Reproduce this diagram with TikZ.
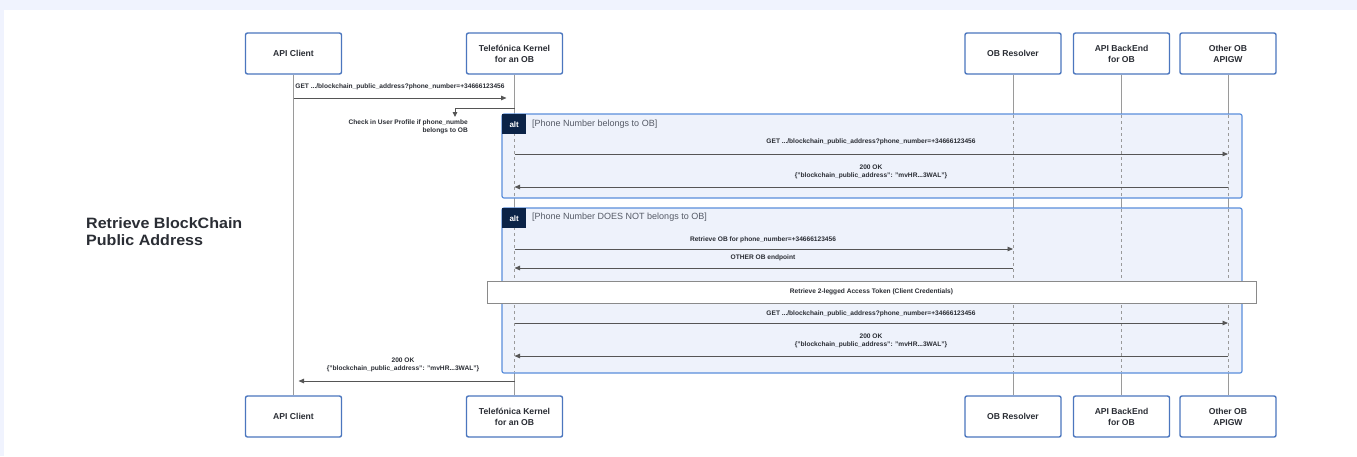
\documentclass[tikz,border=0pt]{standalone}
\usepackage{fontspec}
\setmainfont{Liberation Sans}
\newfontfamily\titlefont[FakeStretch=1.07]{Liberation Sans}
\usetikzlibrary{arrows.meta}
\definecolor{bgblue}{HTML}{F0F3FE}
\definecolor{boxblue}{HTML}{4B76BE}
\definecolor{altblue}{HTML}{5A8EDB}
\definecolor{altfill}{HTML}{EEF2FB}
\definecolor{navy}{HTML}{0B2347}
\definecolor{lifegray}{HTML}{9A9A9A}
\definecolor{arrgray}{HTML}{555555}
\definecolor{txtdark}{HTML}{2A2D34}
\definecolor{condgray}{HTML}{555A66}
\definecolor{notegray}{HTML}{8A8A8A}
\tikzset{
  actor/.style={draw=boxblue, line width=1.4pt, fill=white, rounded corners=2pt,
    minimum width=96pt, minimum height=41pt, align=center, inner sep=1pt,
    font=\fontsize{8.6}{11}\selectfont\bfseries, text=txtdark},
  life/.style={draw=lifegray, line width=1pt},
  dlife/.style={draw=lifegray, line width=0.8pt, dash pattern=on 3pt off 3pt},
  msg/.style={draw=arrgray, line width=0.9pt, -{Triangle[length=5.5pt,width=4.5pt]}},
  mlabel/.style={font=\fontsize{6.6}{8}\selectfont\bfseries, text=txtdark, inner sep=0pt, align=center},
  altbox/.style={draw=altblue, fill=altfill, line width=1.2pt, rounded corners=2pt},
  alttab/.style={fill=navy, text=white, font=\fontsize{8}{9}\selectfont\bfseries,
    minimum width=24pt, minimum height=20pt, inner sep=0pt, anchor=north west},
  cond/.style={font=\fontsize{9}{10}\selectfont, text=condgray, inner sep=0pt, anchor=west},
  notebox/.style={draw=notegray, fill=white, line width=0.8pt, minimum width=769pt,
    minimum height=22pt, inner sep=0pt, font=\fontsize{6.6}{8}\selectfont\bfseries, text=txtdark},
}
\begin{document}
\begin{tikzpicture}[x=1pt,y=-1pt]
\fill[bgblue] (0,0) rectangle (1357,456);
\fill[white] (4,10) rectangle (1357,456);
\useasboundingbox (0,0) rectangle (1357,456);

% participants top
\node[actor] (ac)  at (293.5,53.5) {API Client};
\node[actor] (tk)  at (514.5,53.5) {Telefónica Kernel\\for an OB};
\node[actor] (obr) at (1013,53.5) {OB Resolver};
\node[actor] (abe) at (1121.5,53.5) {API BackEnd\\for OB};
\node[actor] (oog) at (1228,53.5) {Other OB\\APIGW};
% participants bottom
\node[actor] (acb)  at (293.5,416.5) {API Client};
\node[actor] (tkb)  at (514.5,416.5) {Telefónica Kernel\\for an OB};
\node[actor] (obrb) at (1013,416.5) {OB Resolver};
\node[actor] (abeb) at (1121.5,416.5) {API BackEnd\\for OB};
\node[actor] (oogb) at (1228,416.5) {Other OB\\APIGW};

% lifelines
\draw[life] (ac.south) -- (acb.north);
\draw[life] (tk.south) -- (tkb.north);
\draw[life] (obr.south) -- (obrb.north);
\draw[life] (abe.south) -- (abeb.north);
\draw[life] (oog.south) -- (oogb.north);

% alt boxes
\draw[altbox] (502,114) rectangle (1242,198);
\draw[altbox] (502,208) rectangle (1242,373);
\foreach \ya/\yb in {115/197, 209/372}{
  \foreach \p in {tk,obr,abe,oog}{
    \draw[dlife] (\p |- 0,\ya) -- (\p |- 0,\yb);
  }
}
\node[alttab] (t1) at (502,114) {alt};
\node[cond] (c1) at (532,124) {[Phone Number belongs to OB]};
\node[alttab] (t2) at (502,208) {alt};
\node[cond] (c2) at (532,217) {[Phone Number DOES NOT belongs to OB]};

% first request
\draw[msg] (ac |- 0,98) -- ([xshift=-8pt]tk |- 0,98);
\node[mlabel] (l1) at (400,87) {GET .../blockchain\_public\_address?phone\_number=+34666123456};

% self message
\coordinate (sm) at (455,108);
\draw[draw=arrgray, line width=0.9pt, -{Triangle[length=5pt,width=4.5pt]}] (tk |- sm) -- (sm) -- ++(0,9);
\node[mlabel, align=right, anchor=north east] (l2) at (468,120) {Check in User Profile if phone\_numbe\\belongs to OB};

% alt 1
\node[mlabel] (l3) at (871,142) {GET .../blockchain\_public\_address?phone\_number=+34666123456};
\draw[msg] (tk |- 0,154) -- (oog |- 0,154);
\node[mlabel] (l4) at (871,172) {200 OK\\\{"blockchain\_public\_address": "mvHR...3WAL"\}};
\draw[msg] (oog |- 0,187) -- (tk |- 0,187);

% alt 2
\node[mlabel] (l5) at (763,240) {Retrieve OB for phone\_number=+34666123456};
\draw[msg] (tk |- 0,249) -- (obr |- 0,249);
\node[mlabel] (l6) at (763,258) {OTHER OB endpoint};
\draw[msg] (obr |- 0,268) -- (tk |- 0,268);
\node[notebox] (nb) at (871.5,292) {Retrieve 2-legged Access Token (Client Credentials)};
\node[mlabel] (l7) at (871,314) {GET .../blockchain\_public\_address?phone\_number=+34666123456};
\draw[msg] (tk |- 0,323) -- (oog |- 0,323);
\node[mlabel] (l8) at (871,341) {200 OK\\\{"blockchain\_public\_address": "mvHR...3WAL"\}};
\draw[msg] (oog |- 0,356) -- (tk |- 0,356);

% final response
\node[mlabel] (l9) at (403,365) {200 OK\\\{"blockchain\_public\_address": "mvHR...3WAL"\}};
\draw[msg] (tk |- 0,381) -- ([xshift=5pt]ac |- 0,381);

% title
\node[font=\titlefont\fontsize{15}{17}\selectfont\bfseries, text=txtdark, align=left, anchor=north west, inner sep=0pt] (title) at (86,217) {Retrieve BlockChain\\Public Address};
\end{tikzpicture}
\end{document}
